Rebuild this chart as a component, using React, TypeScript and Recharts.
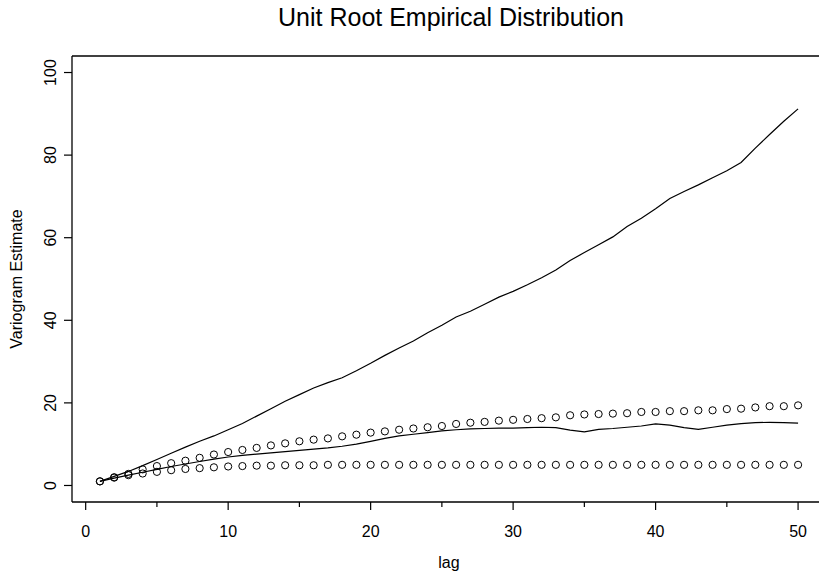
import { ComposedChart, Line, Scatter, XAxis, YAxis, ReferenceLine, Label } from "recharts";

const lags = Array.from({ length: 50 }, (_, i) => i + 1);

// solid lines
const upperLine = [
  1.0, 2.2, 3.4, 4.8, 6.3, 7.8, 9.3, 10.7, 12.0, 13.5,
  15.0, 16.8, 18.6, 20.4, 22.0, 23.6, 24.9, 26.1, 27.8, 29.6,
  31.5, 33.3, 35.0, 37.0, 38.8, 40.8, 42.2, 43.9, 45.6, 47.0,
  48.6, 50.3, 52.2, 54.5, 56.4, 58.3, 60.2, 62.7, 64.7, 67.0,
  69.5, 71.2, 72.8, 74.5, 76.2, 78.2, 81.7, 85.0, 88.2, 91.2,
];
const lowerLine = [
  1.0, 1.8, 2.5, 3.2, 3.9, 4.6, 5.2, 5.8, 6.4, 6.9,
  7.3, 7.6, 7.9, 8.2, 8.5, 8.8, 9.1, 9.5, 10.0, 10.7,
  11.4, 12.0, 12.4, 12.8, 13.2, 13.5, 13.7, 13.8, 13.9, 13.9,
  14.0, 14.1, 14.0, 13.4, 13.0, 13.6, 13.8, 14.1, 14.4, 14.9,
  14.6, 14.0, 13.6, 14.1, 14.6, 15.0, 15.2, 15.3, 15.2, 15.1,
];

// open circles
const upperPts = [
  1.0, 2.0, 2.8, 3.9, 4.7, 5.4, 6.0, 6.7, 7.5, 8.1,
  8.6, 9.1, 9.7, 10.2, 10.7, 11.1, 11.4, 11.9, 12.3, 12.8,
  13.1, 13.5, 13.8, 14.1, 14.4, 14.9, 15.2, 15.4, 15.7, 15.9,
  16.1, 16.3, 16.5, 17.0, 17.2, 17.3, 17.4, 17.5, 17.8, 17.8,
  18.0, 18.0, 18.2, 18.2, 18.5, 18.6, 18.9, 19.2, 19.2, 19.4,
];
const lowerPts = [
  1.0, 1.9, 2.5, 2.9, 3.3, 3.7, 4.0, 4.2, 4.4, 4.6,
  4.7, 4.8, 4.8, 4.9, 4.9, 4.9, 5.0, 5.0, 5.0, 5.0,
  5.0, 5.0, 5.0, 5.0, 5.0, 5.0, 5.0, 5.0, 5.0, 5.0,
  5.0, 5.0, 5.0, 5.0, 5.0, 5.0, 5.0, 5.0, 5.0, 5.0,
  5.0, 5.0, 5.0, 5.0, 5.0, 5.0, 5.0, 5.0, 5.0, 5.0,
];

const xTicks = [0, 5, 10, 15, 20, 25, 30, 35, 40, 45, 50];
const yTicks = [0, 20, 40, 60, 80, 100];

const data = lags.map((lag, i) => ({
  lag,
  upper: upperLine[i],
  lower: lowerLine[i],
  cu: upperPts[i],
  cl: lowerPts[i],
}));

const FONT = '"Liberation Sans", Arial, Helvetica, sans-serif';
const FS = 16;

function XTick({ x, y, payload }: any) {
  const major = payload.value % 10 === 0;
  return (
    <g>
      <line x1={x} x2={x} y1={y} y2={y + (major ? 8 : 5)} stroke="#000" strokeWidth={1.2} />
      {major && (
        <text x={x} y={y + 35} textAnchor="middle" fontSize={FS} fontFamily={FONT} fill="#000">
          {payload.value}
        </text>
      )}
    </g>
  );
}

function YTick({ x, y, payload }: any) {
  return (
    <g>
      <line x1={x - 8} x2={x} y1={y} y2={y} stroke="#000" strokeWidth={1.2} />
      <text
        x={x - 16}
        y={y}
        transform={`rotate(-90 ${x - 16} ${y})`}
        textAnchor="middle"
        fontSize={FS}
        fontFamily={FONT}
        fill="#000"
      >
        {payload.value}
      </text>
    </g>
  );
}

const ring = (props: any) => (
  <circle cx={props.cx} cy={props.cy} r={3.6} fill="none" stroke="#000" strokeWidth={1} />
);

export default function App() {
  return (
    <div style={{ position: "absolute", left: 0, top: 0, width: 819, height: 577, overflow: "hidden", background: "#fff" }}>
      <ComposedChart width={840} height={577} data={data} margin={{ top: 56, right: 14, bottom: 0, left: 0 }}>
        <text x={451} y={26} textAnchor="middle" fontSize={25} fontFamily={FONT} fill="#000">
          Unit Root Empirical Distribution
        </text>
        <XAxis
          dataKey="lag"
          type="number"
          domain={[-0.96, 51.96]}
          ticks={xTicks}
          interval={0}
          height={75}
          tickSize={0}
          tickMargin={0}
          tickLine={false}
          tick={<XTick />}
          axisLine={{ stroke: "#000", strokeWidth: 1.3 }}
          allowDataOverflow
        >
          <Label
            content={({ viewBox }: any) => (
              <text x={viewBox.x + viewBox.width / 2} y={568} textAnchor="middle" fontSize={FS} fontFamily={FONT} fill="#000">
                lag
              </text>
            )}
          />
        </XAxis>
        <YAxis
          type="number"
          domain={[-4, 104]}
          ticks={yTicks}
          interval={0}
          width={72}
          tickSize={0}
          tickMargin={0}
          tickLine={false}
          tick={<YTick />}
          axisLine={{ stroke: "#000", strokeWidth: 1.3 }}
          allowDataOverflow
        >
          <Label
            content={({ viewBox }: any) => {
              const cy = viewBox.y + viewBox.height / 2;
              return (
                <text x={22} y={cy} transform={`rotate(-90 22 ${cy})`} textAnchor="middle" fontSize={FS} fontFamily={FONT} fill="#000">
                  Variogram Estimate
                </text>
              );
            }}
          />
        </YAxis>
        <ReferenceLine y={104} stroke="#000" strokeWidth={1.3} />
        <Line dataKey="upper" type="linear" stroke="#000" strokeWidth={1.2} dot={false} isAnimationActive={false} />
        <Line dataKey="lower" type="linear" stroke="#000" strokeWidth={1.2} dot={false} isAnimationActive={false} />
        <Scatter dataKey="cu" shape={ring} isAnimationActive={false} />
        <Scatter dataKey="cl" shape={ring} isAnimationActive={false} />
      </ComposedChart>
    </div>
  );
}
